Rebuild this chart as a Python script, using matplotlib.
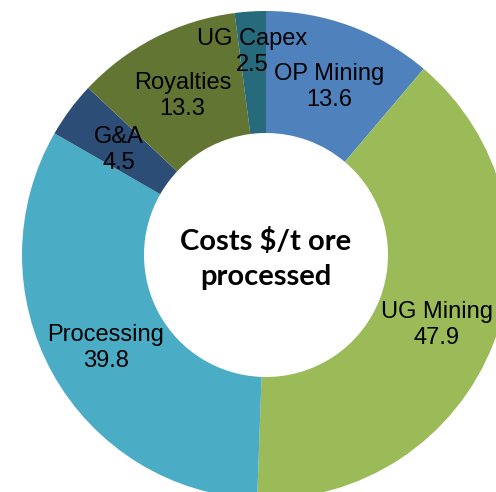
import numpy as np
import matplotlib.pyplot as plt

# Cost breakdown, $/t ore processed (clockwise from top)
categories = ["OP Mining", "UG Mining", "Processing", "G&A", "Royalties", "UG Capex"]
values = [13.6, 47.9, 39.8, 4.5, 13.3, 2.5]
colors = ["#4F81BD", "#9BBB59", "#4BACC6", "#2C4D75", "#637533", "#276A7C"]
label_dist = [0.75, 0.75, 0.75, 0.75, 0.75, 0.85]

CENTER = (266, 237)
RADIUS = 244
HOLE = 0.5

fig = plt.figure(figsize=(4.96, 4.92), dpi=100)
ax = fig.add_axes([0, 0, 1, 1])

wedges, _ = ax.pie(values, colors=colors, startangle=90, counterclock=False,
                   center=CENTER, radius=RADIUS,
                   wedgeprops=dict(width=RADIUS * (1 - HOLE), linewidth=0))

# pie resets the limits, so set them afterwards
ax.set_xlim(0, 496)
ax.set_ylim(0, 492)
ax.set_aspect("equal")
ax.axis("off")

# labels inside the ring (nudged down a little like the original)
for w, name, val, d in zip(wedges, categories, values, label_dist):
    ang = np.deg2rad((w.theta1 + w.theta2) / 2)
    x = CENTER[0] + RADIUS * d * np.cos(ang)
    y = CENTER[1] + RADIUS * d * np.sin(ang) - 4
    ax.text(x, y, f"{name}\n{val}", ha="center", va="center",
            fontsize=17, family="Liberation Sans", linespacing=1.22)

ax.text(CENTER[0], CENTER[1] - 4, "Costs $/t ore\nprocessed", ha="center", va="center",
        fontsize=21, fontweight="bold", family="Lato", linespacing=1.4)

fig.savefig("out.png", dpi=100)
